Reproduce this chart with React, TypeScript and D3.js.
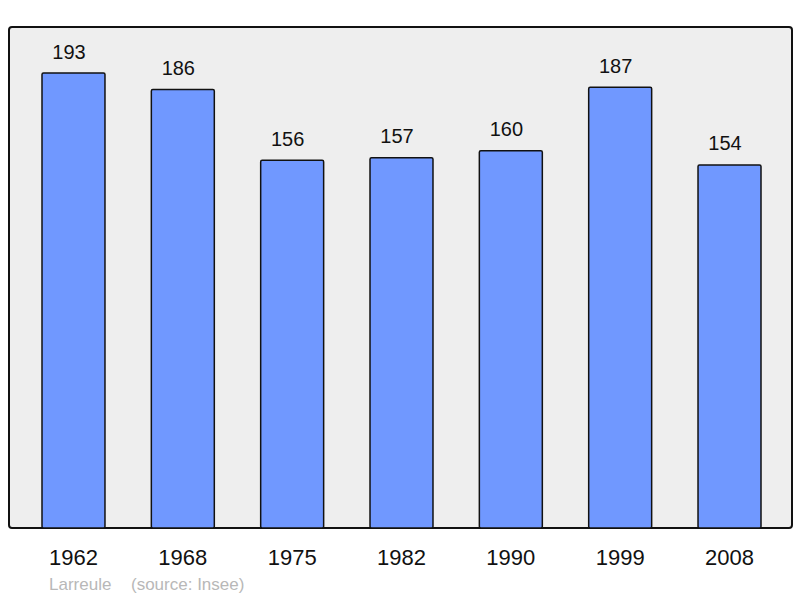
import React from "react";
import * as d3 from "d3";

const years = ["1962", "1968", "1975", "1982", "1990", "1999", "2008"];
const population = [193, 186, 156, 157, 160, 187, 154];
const commune = "Larreule";
const source = "(source: Insee)";

const W = 800;
const H = 598;
const frame = { x0: 9, y0: 27, x1: 792, y1: 528 };

export default function App() {
  const x = d3
    .scaleBand<string>()
    .domain(years)
    .range([42, 761])
    .paddingInner(0.424)
    .paddingOuter(0);
  const y = d3.scaleLinear().domain([0, 193]).range([frame.y1, 73]);
  const font = "'Liberation Sans', Arial, sans-serif";

  return (
    <svg
      width={W}
      height={H}
      style={{ position: "absolute", left: 0, top: 0 }}
      fontFamily={font}
    >
      <rect x={0} y={0} width={W} height={H} fill="#ffffff" />
      <rect
        x={frame.x0}
        y={frame.y0}
        width={frame.x1 - frame.x0}
        height={frame.y1 - frame.y0}
        rx={3}
        fill="#eeeeee"
        stroke="#111111"
        strokeWidth={2}
      />
      {years.map((yr, i) => {
        const bx = x(yr)!;
        const by = y(population[i]);
        return (
          <g key={yr}>
            <rect
              x={bx}
              y={by}
              width={x.bandwidth()}
              height={frame.y1 - by}
              rx={1.5}
              fill="#7098ff"
              stroke="#111111"
              strokeWidth={1.5}
            />
            <text
              x={bx + x.bandwidth() / 2 - 4.5}
              y={by - 14.5}
              textAnchor="middle"
              fontSize={20}
              fill="#111111"
            >
              {population[i]}
            </text>
            <text
              x={bx + x.bandwidth() / 2}
              y={564.5}
              textAnchor="middle"
              fontSize={22}
              fill="#111111"
            >
              {yr}
            </text>
          </g>
        );
      })}
      <text x={49} y={590} fontSize={17} fill="#b8b8b8">
        {commune}
      </text>
      <text x={131} y={590} fontSize={17} fill="#b8b8b8">
        {source}
      </text>
    </svg>
  );
}
